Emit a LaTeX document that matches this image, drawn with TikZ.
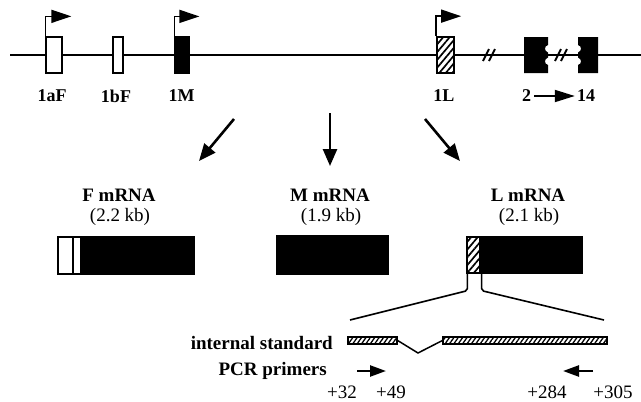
\documentclass[tikz,border=0pt]{standalone}
\usepackage{fontspec}
\setmainfont{Liberation Serif}
\usetikzlibrary{arrows.meta,patterns,patterns.meta}
\begin{document}
\begin{tikzpicture}[x=1pt,y=-1pt,
  lbl/.style={font=\fontsize{18}{20}\selectfont\bfseries, inner sep=0pt},
  ttl/.style={font=\fontsize{19}{21}\selectfont\bfseries, inner sep=0pt},
  sub/.style={font=\fontsize{19}{21}\selectfont, inner sep=0pt},
  gline/.style={line width=1.7pt},
  exon/.style={draw, line width=1.3pt, fill=white, inner sep=0pt, minimum height=36pt},
  blk/.style={draw, line width=1.2pt, fill=black, inner sep=0pt},
  hatchbig/.style={draw, line width=1.3pt, inner sep=0pt, preaction={fill=white},
     pattern={Lines[angle=50,distance=5pt,line width=1.7pt]}},
  hatchsmall/.style={draw, line width=1.2pt, inner sep=0pt, preaction={fill=white},
     pattern={Lines[angle=55,distance=3.6pt,line width=1.3pt]}},
  flag/.style={line width=1.5pt, -{Triangle[length=20pt,width=13pt]}},
  bigarrow/.style={line width=2.6pt, -{Triangle[length=17pt,width=14pt]}},
  pcr/.style={line width=2.4pt, -{Triangle[length=16pt,width=11pt]}},
  zoomline/.style={line width=1.6pt, rounded corners=2pt},
  brk/.style={line width=2pt},
]
\useasboundingbox (0,0) rectangle (641,402);

% genomic line
\coordinate (gl) at (10,55);
\coordinate (gr) at (641,55);
\draw[gline] (gl) -- (gr);

% break marks
\draw[brk] (483,61) -- (489,49) (489,61) -- (495,49);
\draw[brk] (555,61) -- (561,49) (561,61) -- (567,49);

% first exons
\node[exon, minimum width=16pt] (e1aF) at (54,55) {};
\node[exon, minimum width=10pt] (e1bF) at (118,55) {};
\node[blk, minimum width=14pt, minimum height=36pt] (e1M) at (182,55) {};
\node[hatchbig, minimum width=17pt, minimum height=36pt] (e1L) at (445.5,55) {};

% exons 2 and 14
\fill (524,37) -- (548,37) -- (548,45) .. controls (544,46) and (544,51) .. (548,52.5)
  -- (548,57.5) .. controls (544,59) and (544,64) .. (548,65) -- (548,73) -- (524,73) -- cycle;
\fill (598,37) -- (578,37) -- (578,45) .. controls (582,46) and (582,51) .. (578,52.5)
  -- (578,57.5) .. controls (582,59) and (582,64) .. (578,65) -- (578,73) -- (598,73) -- cycle;

% promoter flags
\draw[flag] (e1aF.north west) -- ++(0,-20) -- ++(26,0);
\draw[flag] (e1M.north west) -- ++(0,-20) -- ++(25,0);
\draw[flag] (e1L.north west) -- ++(0,-20) -- ++(25,0);

% exon labels
\node[lbl] (l1aF) at (52,96) {1aF};
\node[lbl] (l1bF) at (116,96) {1bF};
\node[lbl] (l1M) at (181.5,96) {1M};
\node[lbl] (l1L) at (444,96) {1L};
\node[lbl] (l2) at (526.5,96) {2};
\node[lbl] (l14) at (586,96) {14};
\draw[line width=1.8pt, -{Triangle[length=20pt,width=12pt]}] ([xshift=3pt]l2.east) -- ([xshift=-2pt]l14.west);

% transcription arrows
\coordinate (a1s) at (234,119);
\coordinate (a1e) at (199,161);
\coordinate (a2s) at (330,113);
\coordinate (a2e) at (330,166);
\coordinate (a3s) at (425,119);
\coordinate (a3e) at (460,161);
\draw[bigarrow] (a1s) -- (a1e);
\draw[bigarrow] (a2s) -- (a2e);
\draw[bigarrow] (a3s) -- (a3e);

% mRNA titles
\node[ttl] (tF) at (119,195) {F mRNA};
\node[sub] (sF) at (120,217) {(2.2 kb)};
\node[ttl] (tM) at (330,195) {M mRNA};
\node[sub] (sM) at (331,217) {(1.9 kb)};
\node[ttl] (tL) at (528,195) {L mRNA};
\node[sub] (sL) at (529,217) {(2.1 kb)};

% mRNA boxes
\node[draw, line width=1.3pt, fill=white, inner sep=0pt, minimum width=15pt, minimum height=37pt] (F1) at (65.5,255.5) {};
\node[draw, line width=1.3pt, fill=white, inner sep=0pt, minimum width=8pt, minimum height=37pt] (F2) at (77,255.5) {};
\node[blk, minimum width=113pt, minimum height=37pt] (F3) at (137.5,255.5) {};
\node[blk, minimum width=111pt, minimum height=38pt] (Mb) at (332.5,255) {};
\node[hatchbig, minimum width=13pt, minimum height=36pt] (Lh) at (473.5,255) {};
\node[blk, minimum width=102pt, minimum height=36pt] (Lb) at (531,255) {};

% internal standard
\node[hatchsmall, minimum width=49pt, minimum height=7pt] (isL) at (372.5,340.5) {};
\node[hatchsmall, minimum width=164pt, minimum height=7pt] (isR) at (525,340.5) {};
\coordinate (sp) at (418,353);
\draw[line width=1.5pt] (isL.east) -- (sp) -- (isR.west);

% zoom lines
\coordinate (zl) at (350,320);
\coordinate (zr) at (604,320);
\draw[zoomline] ([xshift=1pt]Lh.south west) -- ++(0,17) -- (zl);
\draw[zoomline] ([xshift=1pt]Lh.south east) -- ++(0,17) -- (zr);

% labels
\node[ttl, anchor=east] (tis) at (333,343) {internal standard};
\node[ttl, anchor=east] (tpcr) at (327,371) {PCR primers};

% primers
\coordinate (p1s) at (357,371);
\coordinate (p1e) at (386,371);
\coordinate (p2s) at (593,371);
\coordinate (p2e) at (563,371);
\draw[pcr] (p1s) -- (p1e);
\draw[pcr] (p2s) -- (p2e);

\node[sub] (n32) at (342,392) {+32};
\node[sub] (n49) at (391,392) {+49};
\node[sub] (n284) at (547,392) {+284};
\node[sub] (n305) at (613,392) {+305};
\end{tikzpicture}
\end{document}
